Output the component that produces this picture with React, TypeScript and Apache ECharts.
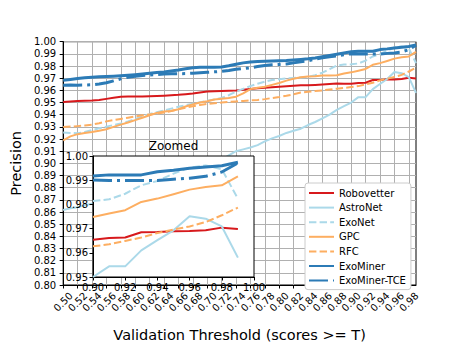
import React, { useEffect, useRef } from "react";
import * as echarts from "echarts";

const thresholds = [
  0.5, 0.51, 0.52, 0.53, 0.54, 0.55, 0.56, 0.57, 0.58, 0.59,
  0.6, 0.61, 0.62, 0.63, 0.64, 0.65, 0.66, 0.67, 0.68, 0.69,
  0.7, 0.71, 0.72, 0.73, 0.74, 0.75, 0.76, 0.77, 0.78, 0.79,
  0.8, 0.81, 0.82, 0.83, 0.84, 0.85, 0.86, 0.87, 0.88, 0.89,
  0.9, 0.91, 0.92, 0.93, 0.94, 0.95, 0.96, 0.97, 0.98, 0.99,
];

const robovetter = [
  0.9505, 0.9508, 0.9512, 0.9514, 0.9516, 0.952, 0.953, 0.954, 0.9548, 0.9549,
  0.955, 0.955, 0.9551, 0.9553, 0.9556, 0.956, 0.9563, 0.9568, 0.9574, 0.9582,
  0.959, 0.9593, 0.9595, 0.9596, 0.9598, 0.9605, 0.9611, 0.9617, 0.9622, 0.9626,
  0.963, 0.9634, 0.9638, 0.9641, 0.9643, 0.9645, 0.9648, 0.9652, 0.9656, 0.9655,
  0.9654, 0.9661, 0.9663, 0.9685, 0.9686, 0.9689, 0.969, 0.9693, 0.9704, 0.9698,
];

const astronet = [
  0.8616, 0.863, 0.864, 0.8655, 0.8668, 0.868, 0.8695, 0.8712, 0.873, 0.875,
  0.877, 0.879, 0.881, 0.883, 0.885, 0.887, 0.889, 0.891, 0.893, 0.895,
  0.897, 0.8995, 0.903, 0.9065, 0.91, 0.9115, 0.913, 0.915, 0.918, 0.9205,
  0.9225, 0.925, 0.9268, 0.9285, 0.9315, 0.934, 0.937, 0.94, 0.944, 0.947,
  0.95, 0.9544, 0.9544, 0.961, 0.9652, 0.9693, 0.9751, 0.9741, 0.9709, 0.958,
];

const exonet = [
  0.9253, 0.925, 0.9247, 0.9258, 0.9274, 0.9288, 0.9302, 0.9315, 0.9328, 0.9345,
  0.9365, 0.9385, 0.9405, 0.942, 0.9435, 0.945, 0.9465, 0.9478, 0.949, 0.9502,
  0.9514, 0.9525, 0.9537, 0.956, 0.959, 0.9612, 0.9635, 0.9655, 0.9672, 0.9685,
  0.9692, 0.9698, 0.9702, 0.9706, 0.9712, 0.9725, 0.9745, 0.9775, 0.9805, 0.9812,
  0.9814, 0.9821, 0.9844, 0.9879, 0.9897, 0.9927, 0.9952, 0.9961, 0.9945, 0.9824,
];

const gpc = [
  0.9189, 0.9222, 0.924, 0.925, 0.9258, 0.9268, 0.928, 0.93, 0.9318, 0.9336,
  0.9355, 0.9375, 0.9395, 0.9415, 0.9426, 0.943, 0.9445, 0.9468, 0.9485, 0.95,
  0.951, 0.9525, 0.9532, 0.9538, 0.9548, 0.9575, 0.961, 0.9622, 0.963, 0.9645,
  0.9661, 0.968, 0.9696, 0.9708, 0.9714, 0.9716, 0.9722, 0.9722, 0.9725, 0.9738,
  0.9748, 0.9762, 0.9776, 0.981, 0.9824, 0.9842, 0.9861, 0.9872, 0.9879, 0.9916,
];

const rfc = [
  0.9298, 0.9302, 0.9306, 0.9311, 0.9318, 0.933, 0.9345, 0.9356, 0.9365, 0.9375,
  0.9385, 0.9395, 0.9402, 0.9408, 0.9418, 0.943, 0.9445, 0.9457, 0.947, 0.948,
  0.9488, 0.9495, 0.95, 0.9505, 0.9509, 0.9513, 0.9517, 0.9521, 0.9528, 0.9537,
  0.9545, 0.9555, 0.9568, 0.9582, 0.9588, 0.9594, 0.96, 0.9607, 0.9614, 0.962,
  0.9627, 0.9635, 0.9649, 0.9663, 0.9682, 0.9696, 0.9709, 0.9727, 0.9755, 0.9787,
];

const exominer = [
  0.9682, 0.969, 0.9697, 0.9703, 0.9708, 0.9711, 0.9714, 0.9717, 0.9721, 0.9725,
  0.9729, 0.9734, 0.974, 0.9746, 0.9752, 0.976, 0.9768, 0.9778, 0.9785, 0.9789,
  0.979, 0.979, 0.9792, 0.9802, 0.9815, 0.9826, 0.9834, 0.9838, 0.984, 0.9842,
  0.9844, 0.9846, 0.985, 0.9854, 0.9859, 0.9866, 0.9876, 0.9886, 0.9897, 0.9907,
  0.9917, 0.9922, 0.9922, 0.9922, 0.9935, 0.9941, 0.9949, 0.9955, 0.996, 0.9974,
];

const exominerTce = [
  0.9643, 0.9644, 0.9643, 0.9644, 0.9646, 0.9652, 0.9662, 0.9678, 0.9695, 0.9708,
  0.9715, 0.9722, 0.9726, 0.973, 0.9734, 0.9736, 0.9737, 0.9738, 0.9741, 0.9745,
  0.9748, 0.9752, 0.9757, 0.9764, 0.9773, 0.9779, 0.9786, 0.9796, 0.9805, 0.981,
  0.9813, 0.9817, 0.9826, 0.9836, 0.9843, 0.9856, 0.9867, 0.9876, 0.9884, 0.9893,
  0.9901, 0.9899, 0.9899, 0.9899, 0.9899, 0.9904, 0.9908, 0.9916, 0.9934, 0.9971,
];

const mainXTicks = [
  0.5, 0.52, 0.54, 0.56, 0.58, 0.6, 0.62, 0.64, 0.66, 0.68, 0.7, 0.72, 0.74,
  0.76, 0.78, 0.8, 0.82, 0.84, 0.86, 0.88, 0.9, 0.92, 0.94, 0.96, 0.98,
];

const FONT = "DejaVu Sans";
const RED = "#d7191c";
const LBLUE = "#abd9e9";
const ORANGE = "#fdae61";
const BLUE = "#2c7bb6";

const seriesDefs = [
  { name: "Robovetter", data: robovetter, color: RED, width: 2, type: "solid" as any },
  { name: "AstroNet", data: astronet, color: LBLUE, width: 2, type: "solid" as any },
  { name: "ExoNet", data: exonet, color: LBLUE, width: 2, type: [7.4, 3.2] as any },
  { name: "GPC", data: gpc, color: ORANGE, width: 2, type: "solid" as any },
  { name: "RFC", data: rfc, color: ORANGE, width: 2, type: [7.4, 3.2] as any },
  { name: "ExoMiner", data: exominer, color: BLUE, width: 3, type: "solid" as any },
  { name: "ExoMiner-TCE", data: exominerTce, color: BLUE, width: 3, type: [19, 5, 3, 5] as any },
];

export default function App() {
  const ref = useRef<HTMLDivElement>(null);

  useEffect(() => {
    if (!ref.current) return;
    const chart = echarts.init(ref.current, null, { renderer: "svg" });

    const axisCommon = {
      axisLine: { show: true, onZero: false, lineStyle: { color: "#000", width: 1 } },
      axisTick: { show: true, inside: false, length: 3.5, lineStyle: { color: "#000", width: 1 } },
    };

    const mkSeries = (s: any, xi: number, inset: boolean) => ({
      name: s.name,
      type: "line",
      xAxisIndex: xi,
      yAxisIndex: xi,
      data: thresholds
        .map((t, i) => [t, s.data[i]])
        .filter((p) => !inset || p[0] >= 0.9 - 1e-9),
      showSymbol: false,
      symbol: "none",
      lineStyle: { color: s.color, width: s.width, type: s.type, cap: "butt", join: "round" },
      itemStyle: { color: s.color },
      z: inset ? 8 : 2,
    });

    const mainSeries = seriesDefs.map((s) => mkSeries(s, 0, false));
    const insetSeries = seriesDefs.map((s) => mkSeries(s, 1, true));

    chart.setOption({
      animation: false,
      backgroundColor: "#fff",
      textStyle: { fontFamily: FONT },
      grid: [
        {
          left: 57.3,
          top: 41.7,
          width: 358.7,
          height: 252.3,
          show: true,
          backgroundColor: "transparent",
          borderColor: "#000",
          borderWidth: 1,
          z: 0,
        },
        {
          left: 93,
          top: 156,
          width: 161,
          height: 121,
          show: true,
          backgroundColor: "#fff",
          borderColor: "#000",
          borderWidth: 1,
          z: 5,
        },
      ],
      xAxis: [
        {
          ...axisCommon,
          type: "value",
          gridIndex: 0,
          min: 0.5,
          max: 0.99,
          interval: 0.02,
          axisTick: { ...axisCommon.axisTick, customValues: mainXTicks },
          axisLabel: {
            customValues: mainXTicks,
            rotate: 45,
            align: "center",
            verticalAlign: "middle",
            margin: 17,
            fontSize: 10,
            color: "#000",
            fontFamily: FONT,
            formatter: (v: number) => v.toFixed(2),
          },
          splitLine: { show: true, lineStyle: { color: "#b0b0b0", width: 1 } },
          name: "Validation Threshold (scores >= T)",
          nameLocation: "middle",
          nameGap: 42,
          nameTextStyle: { fontSize: 14.5, color: "#000", fontFamily: FONT },
        },
        {
          ...axisCommon,
          type: "value",
          gridIndex: 1,
          min: 0.9,
          max: 1.0,
          interval: 0.02,
          z: 6,
          axisLabel: {
            fontSize: 10,
            margin: 5,
            color: "#000",
            fontFamily: FONT,
            formatter: (v: number) => v.toFixed(2),
          },
          splitLine: { show: false },
        },
      ],
      yAxis: [
        {
          ...axisCommon,
          type: "value",
          gridIndex: 0,
          min: 0.8,
          max: 1.0,
          interval: 0.01,
          axisLabel: {
            fontSize: 10,
            margin: 7,
            color: "#000",
            fontFamily: FONT,
            formatter: (v: number) => v.toFixed(2),
          },
          splitLine: { show: true, lineStyle: { color: "#b0b0b0", width: 1 } },
          name: "Precision",
          nameLocation: "middle",
          nameGap: 40,
          nameTextStyle: { fontSize: 14.5, color: "#000", fontFamily: FONT },
        },
        {
          ...axisCommon,
          type: "value",
          gridIndex: 1,
          min: 0.95,
          max: 1.0,
          interval: 0.01,
          z: 6,
          axisLabel: {
            fontSize: 10,
            margin: 5,
            color: "#000",
            fontFamily: FONT,
            formatter: (v: number) => v.toFixed(2),
          },
          splitLine: { show: false },
        },
      ],
      legend: {
        orient: "vertical",
        left: 305,
        top: 183,
        padding: [4, 5, 3, 3],
        itemWidth: 25,
        itemHeight: 10,
        itemGap: 2.6,
        backgroundColor: "#fff",
        borderColor: "#cccccc",
        borderWidth: 1,
        borderRadius: 3,
        z: 20,
        itemStyle: { opacity: 0 },
        data: seriesDefs.map((s) => s.name),
        textStyle: { fontSize: 10, color: "#000", fontFamily: FONT, lineHeight: 12 },
      },
      graphic: [
        {
          type: "text",
          x: 173.5,
          y: 146,
          z: 30,
          style: {
            text: "Zoomed",
            fill: "#000",
            font: `12px "${FONT}"`,
            align: "center",
            verticalAlign: "middle",
          },
        },
      ],
      series: [...mainSeries, ...insetSeries],
    });

    return () => chart.dispose();
  }, []);

  return <div ref={ref} style={{ width: 463, height: 347, position: "absolute", left: 0, top: 0 }} />;
}
